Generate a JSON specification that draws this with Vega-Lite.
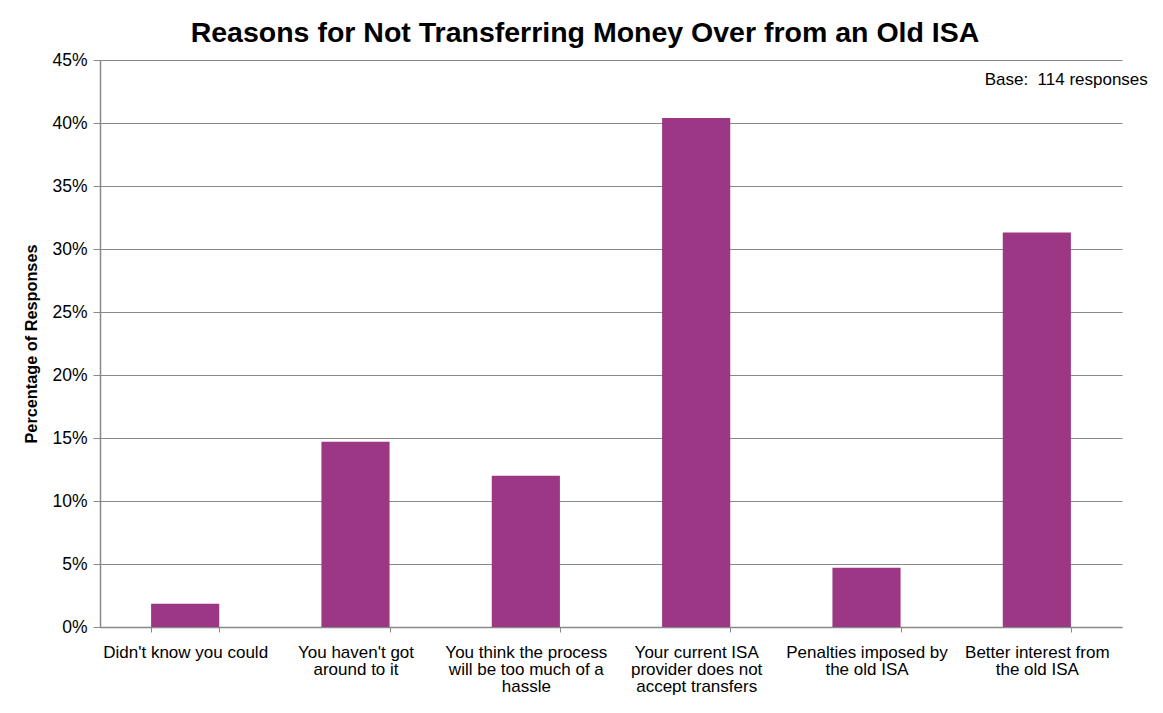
{
  "$schema": "https://vega.github.io/schema/vega-lite/v6.json",
  "autosize": {"type": "none"},
  "width": 1022,
  "height": 567,
  "padding": {"left": 100, "top": 60, "right": 41, "bottom": 86},
  "background": "white",
  "title": {
    "text": "Reasons for Not Transferring Money Over from an Old ISA",
    "font": "Liberation Sans",
    "fontSize": 28.5,
    "fontWeight": "bold",
    "color": "#000000",
    "anchor": "middle",
    "dx": -26,
    "offset": 4
  },
  "config": {
    "view": {"stroke": null},
    "font": "Liberation Sans"
  },
  "data": {
    "values": [
      {"reason": "Didn't know you could", "pct": 0.0185},
      {"reason": "You haven't got|around to it", "pct": 0.147},
      {"reason": "You think the process|will be too much of a|hassle", "pct": 0.12},
      {"reason": "Your current ISA|provider does not|accept transfers", "pct": 0.404},
      {"reason": "Penalties imposed by|the old ISA", "pct": 0.047},
      {"reason": "Better interest from|the old ISA", "pct": 0.313}
    ]
  },
  "layer": [
    {
      "mark": {"type": "bar", "color": "#9B3784"},
      "encoding": {
        "x": {
          "field": "reason",
          "type": "nominal",
          "sort": null,
          "scale": {"paddingInner": 0.6, "paddingOuter": 0.3},
          "axis": {
            "title": null,
            "labelAngle": 0,
            "labelExpr": "split(datum.label, '|')",
            "labelFont": "Liberation Sans",
            "labelFontSize": 17,
            "labelColor": "#000000",
            "labelPadding": 12,
            "labelLineHeight": 17,
            "labelLimit": 220,
            "domainColor": "#898989",
            "domainWidth": 1.5,
            "tickColor": "#898989",
            "tickBand": "extent",
            "tickSize": 5
          }
        },
        "y": {
          "field": "pct",
          "type": "quantitative",
          "scale": {"domain": [0, 0.45], "nice": false},
          "axis": {
            "title": "Percentage of Responses",
            "titleFont": "Liberation Sans",
            "titleFontSize": 16.3,
            "titleFontWeight": "bold",
            "titleColor": "#000000",
            "titlePadding": 12,
            "format": ".0%",
            "values": [0, 0.05, 0.1, 0.15, 0.2, 0.25, 0.3, 0.35, 0.4, 0.45],
            "labelFont": "Liberation Sans",
            "labelFontSize": 17.5,
            "labelColor": "#000000",
            "labelPadding": 6,
            "grid": true,
            "gridColor": "#898989",
            "gridWidth": 1,
            "domainColor": "#898989",
            "domainWidth": 1.5,
            "tickColor": "#898989",
            "tickSize": 7
          }
        }
      }
    },
    {
      "data": {"values": [{"reason": "Better interest from|the old ISA", "pct": 0.4345, "note": "Base:\u00a0 114 responses"}]},
      "mark": {"type": "text", "align": "right", "baseline": "middle", "dx": 111, "fontSize": 17, "font": "Liberation Sans", "color": "#000000"},
      "encoding": {
        "x": {"field": "reason", "type": "nominal", "sort": null},
        "y": {"field": "pct", "type": "quantitative"},
        "text": {"field": "note"}
      }
    }
  ]
}
